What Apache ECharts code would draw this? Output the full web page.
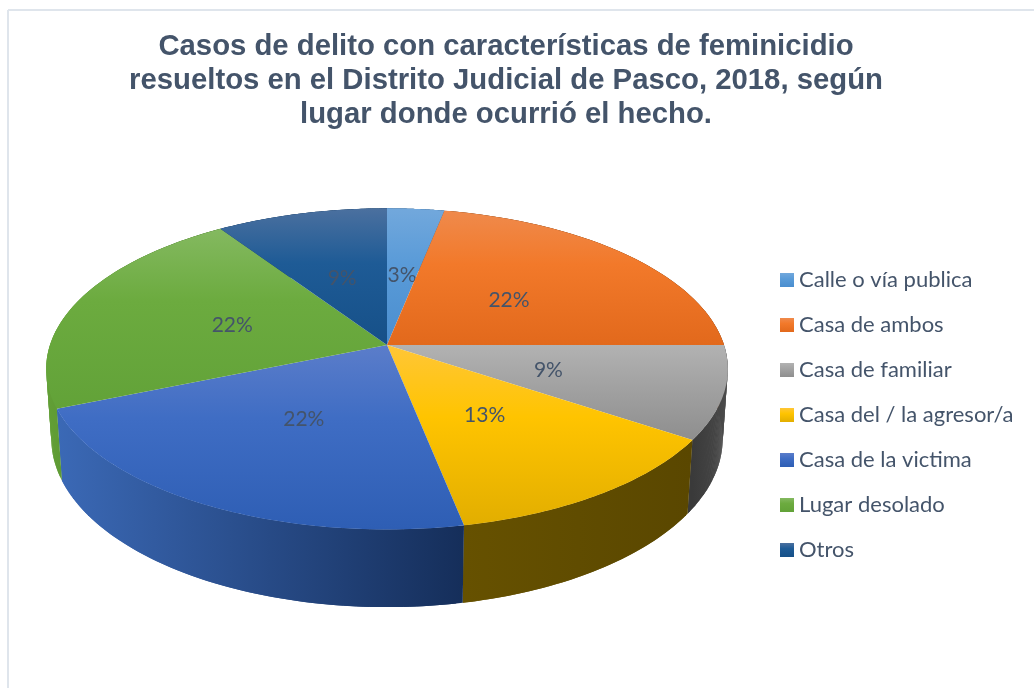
<!DOCTYPE html>
<html>
<head>
    <meta charset="utf-8">
    <title>Feminicidio Pasco 2018</title>
    <script src="https://cdn.jsdelivr.net/npm/echarts@6/dist/echarts.min.js"></script>
    <style>
        html, body { margin: 0; padding: 0; background: #fff; }
        #main { width: 1034px; height: 688px; }
    </style>
</head>
<body>
<div id="main"></div>
<script type="text/javascript">
var titleText = 'Casos de delito con características de feminicidio\nresueltos en el Distrito Judicial de Pasco, 2018, según\nlugar donde ocurrió el hecho.';
var lugares = ['Calle o vía publica', 'Casa de ambos', 'Casa de familiar', 'Casa del / la agresor/a', 'Casa de la victima', 'Lugar desolado', 'Otros'];
// casos por lugar (32 en total)
var casos = [1, 7, 3, 4, 7, 7, 3];

// colores: [arriba, medio, abajo] de la cara, [izq, der] del costado
var topColors = [
    ['#72a8dc', '#5a9bd8', '#4a8ecf'], ['#ef8a4c', '#f2792a', '#e2691c'], ['#b2b2b2', '#a3a3a3', '#8e8e8e'], ['#ffc637', '#ffc400', '#e2ae00'],
    ['#5b7dca', '#3f6dc4', '#2e5eb4'], ['#84b960', '#6cab3f', '#62a238'], ['#4b709f', '#1e5b96', '#165088']
];
var wallColors = [
    ['#2c5f91', '#2c5f91'], ['#8c4513', '#8c4513'], ['#3a3a3a', '#4a4a4a'], ['#665100', '#5a4700'],
    ['#3b69b6', '#152e5a'], ['#629f36', '#3a6e20'], ['#123a63', '#123a63']
];

// proyeccion en perspectiva del disco
var cx = 387, cy = 345, ax = 337, ay = 157, k = 0.149, depth = 70, shrink = 0.015;
function project(angle, r, lower) {
    var u = Math.sin(angle) * r, v = -Math.cos(angle) * r;
    var w = 1 - k * v + (lower ? shrink : 0);
    return [cx + ax * u / w, cy + (ay * v + (lower ? depth : 0)) / w];
}

var total = casos.reduce(function (a, b) { return a + b; }, 0);

function topGradient(i) {
    return new echarts.graphic.LinearGradient(0, 0, 0, 1, [
        { offset: 0, color: topColors[i][0] },
        { offset: 0.4, color: topColors[i][1] },
        { offset: 1, color: topColors[i][2] }
    ]);
}

function makeSeries(i) {
    var before = casos.slice(0, i).reduce(function (a, b) { return a + b; }, 0);
    return {
        type: 'custom',
        name: lugares[i],
        coordinateSystem: 'none',
        silent: true,
        animation: false,
        itemStyle: { color: topGradient(i) },
        data: [[casos[i], before]],
        renderItem: function (params, api) {
            var a0 = api.value(1) / total * Math.PI * 2;
            var a1 = (api.value(1) + api.value(0)) / total * Math.PI * 2;
            var steps = 80, rim = [], low = [], s;
            for (s = 0; s <= steps; s++) {
                var a = a0 + (a1 - a0) * s / steps;
                rim.push(project(a, 1, false));
                low.push(project(a, 1, true));
            }
            var xs = rim.map(function (p) { return p[0]; });
            var minX = Math.min.apply(null, xs), maxX = Math.max.apply(null, xs);
            var wallFill = new echarts.graphic.LinearGradient(minX, 0, maxX, 0, [
                { offset: 0, color: wallColors[i][0] }, { offset: 1, color: wallColors[i][1] }
            ], true);
            var children = [];
            // costado por tiras solapadas, asi la silueta queda continua y sin costuras
            for (s = 0; s < steps; s++) {
                var e = Math.min(s + 2, steps);
                children.push({
                    type: 'polygon',
                    z2: 1,
                    shape: { points: [rim[s], rim[e], low[e], low[s]] },
                    style: { fill: wallFill }
                });
            }
            var mid = project((a0 + a1) / 2, 0.49, false);
            children.push({
                type: 'polygon',
                z2: 10 + i * 2,
                shape: { points: [[cx, cy]].concat(rim) },
                style: { fill: topGradient(i) }
            });
            children.push({
                type: 'text',
                z2: 11 + i * 2,
                x: mid[0],
                y: mid[1] + 2,
                style: {
                    text: Math.round(api.value(0) / total * 100) + '%',
                    fill: '#44546a',
                    font: '21px Lato',
                    textAlign: 'center',
                    textVerticalAlign: 'middle'
                }
            });
            return { type: 'group', children: children };
        }
    };
}

var myChart = echarts.init(document.getElementById('main'));
myChart.setOption({
    animation: false,
    backgroundColor: '#fff',
    title: {
        text: titleText,
        left: 501,
        top: 25,
        textAlign: 'center',
        textStyle: {
            fontFamily: 'Liberation Sans',
            fontWeight: 'bold',
            fontSize: 29.3,
            lineHeight: 33.8,
            color: '#44546a'
        }
    },
    legend: {
        orient: 'vertical',
        left: 780,
        top: 269,
        padding: 0,
        icon: 'rect',
        itemWidth: 14,
        itemHeight: 14,
        itemGap: 23,
        selectedMode: false,
        data: lugares,
        textStyle: { fontFamily: 'Lato', fontSize: 22, color: '#44546a' }
    },
    graphic: [
        { type: 'line', shape: { x1: 8, y1: 10, x2: 1034, y2: 10 }, style: { stroke: '#dfe5ec', lineWidth: 2 } },
        { type: 'line', shape: { x1: 8, y1: 10, x2: 8, y2: 688 }, style: { stroke: '#dfe5ec', lineWidth: 2 } }
    ],
    series: lugares.map(function (name, i) { return makeSeries(i); })
});
</script>
</body>
</html>
